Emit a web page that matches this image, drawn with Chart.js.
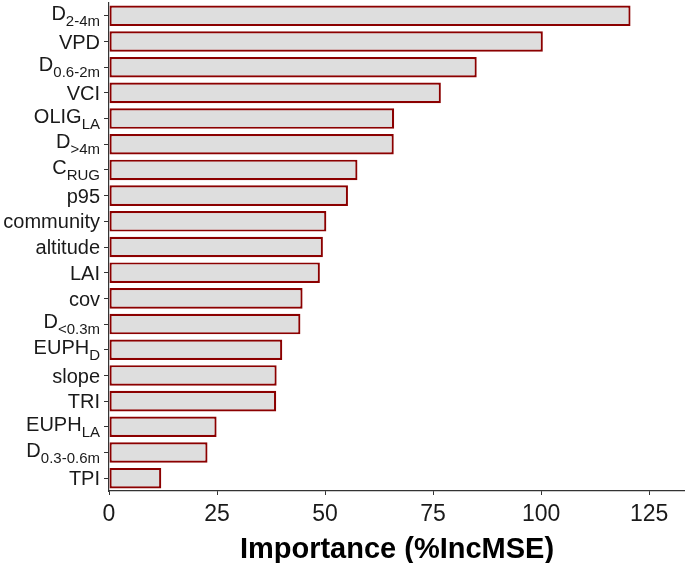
<!DOCTYPE html>
<html>
<head>
<meta charset="utf-8">
<script src="https://cdn.jsdelivr.net/npm/chart.js@4.4.1/dist/chart.umd.min.js"></script>
<style>
  html, body { margin: 0; padding: 0; background: #ffffff; }
  #wrap { width: 685px; height: 563px; position: relative; }
</style>
</head>
<body>
<div id="wrap"><canvas id="c"></canvas></div>
<script>
// Variable names: main part and subscript part
const labelMain = ["D", "VPD", "D", "VCI", "OLIG", "D", "C", "p95", "community", "altitude", "LAI", "cov", "D", "EUPH", "slope", "TRI", "EUPH", "D", "TPI"];
const labelSub  = ["2-4m", "", "0.6-2m", "", "LA", ">4m", "RUG", "", "", "", "", "", "<0.3m", "D", "", "", "LA", "0.3-0.6m", ""];
// Importance (%IncMSE)
const importance = [120.7, 100.4, 85.1, 76.8, 66.0, 65.9, 57.5, 55.3, 50.3, 49.5, 48.8, 44.8, 44.3, 40.1, 38.8, 38.7, 24.9, 22.8, 12.1];
const xTicks = [0, 25, 50, 75, 100, 125];
const xTitle = "Importance (%IncMSE)";

const categories = labelMain.map((m, i) => m + labelSub[i]);
const FONT = "'Liberation Sans', Arial, Helvetica, sans-serif";
const TEXT = "#1a1a1a";
const AXIS = "#333333";

const subLabelPlugin = {
  id: 'subLabels',
  afterDraw(chart) {
    const ctx = chart.ctx;
    const y = chart.scales.y;
    const xRight = chart.chartArea.left - 9;
    ctx.save();
    ctx.fillStyle = TEXT;
    ctx.textAlign = 'left';
    ctx.textBaseline = 'alphabetic';
    const mainFont = "20px " + FONT;
    const subFont = "15px " + FONT;
    labelMain.forEach((m, i) => {
      const cy = y.getPixelForValue(i);
      const s = labelSub[i];
      ctx.font = mainFont;
      const wm = ctx.measureText(m).width;
      let ws = 0;
      if (s) { ctx.font = subFont; ws = ctx.measureText(s).width; }
      const x0 = xRight - wm - ws;
      let base;
      if (s) {
        const capH = 0.716 * 20, drop = 6;
        base = cy + (capH - drop) / 2;
      } else {
        base = cy + 0.716 * 20 / 2;
      }
      ctx.font = mainFont;
      ctx.fillText(m, x0, base);
      if (s) {
        ctx.font = subFont;
        ctx.fillText(s, x0 + wm, base + 6);
      }
    });
    ctx.restore();
  }
};

new Chart(document.getElementById('c'), {
  type: 'bar',
  data: {
    labels: categories,
    datasets: [{
      data: importance,
      backgroundColor: '#DEDEDE',
      borderColor: '#8B0000',
      borderWidth: 2.2,
      borderSkipped: false,
      barPercentage: 0.8,
      categoryPercentage: 1.0
    }]
  },
  options: {
    indexAxis: 'y',
    responsive: true,
    maintainAspectRatio: false,
    animation: false,
    devicePixelRatio: 1,
    layout: { padding: { top: 3, right: 0, left: 0, bottom: 0 } },
    plugins: { legend: { display: false }, tooltip: { enabled: false } },
    scales: {
      x: {
        type: 'linear',
        min: 0,
        max: 133.3,
        afterBuildTicks(scale) { scale.ticks = xTicks.map(v => ({ value: v })); },
        afterFit(scale) { scale.height = 72; },
        ticks: {
          font: { family: FONT, size: 23 },
          color: TEXT,
          padding: 6,
          maxRotation: 0,
          autoSkip: false
        },
        grid: { drawOnChartArea: false, drawTicks: true, tickLength: 4, color: AXIS, tickColor: AXIS, tickWidth: 1 },
        border: { display: true, color: AXIS, width: 1.2 },
        title: {
          display: true,
          text: xTitle,
          color: '#000000',
          font: { family: FONT, size: 29, weight: 'bold' },
          padding: { top: 0, bottom: -4 }
        }
      },
      y: {
        type: 'category',
        afterFit(scale) { scale.width = 109; },
        ticks: { display: false },
        grid: { offset: false, drawOnChartArea: false, drawTicks: true, tickLength: 5, color: AXIS, tickColor: AXIS, tickWidth: 1 },
        border: { display: true, color: AXIS, width: 1.2 }
      }
    }
  },
  plugins: [subLabelPlugin]
});
</script>
</body>
</html>
